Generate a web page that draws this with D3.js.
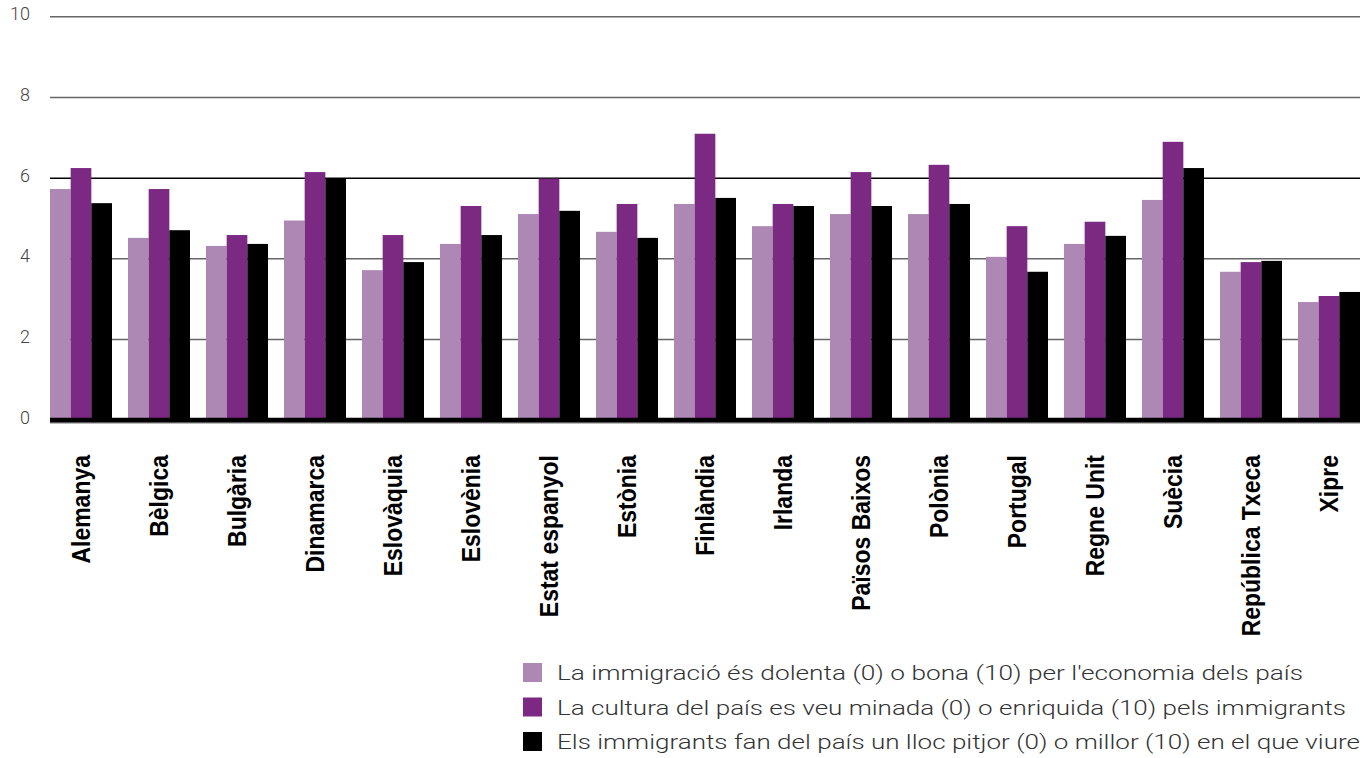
<!DOCTYPE html>
<html>

<head>
	<meta charset="utf-8">
	<title>Immigració</title>
	<script src="https://d3js.org/d3.v7.min.js"></script>
	<style>
		body {
			margin: 0;
			padding: 0;
			background: white;
			overflow: hidden;
		}

		.tick-label {
			font-family: Roboto, sans-serif;
			font-weight: 300;
			font-size: 18px;
			fill: #444;
		}

		.country {
			font-family: "Liberation Sans", Arial, sans-serif;
			font-weight: bold;
			font-size: 23px;
			fill: #000;
		}

		.legend text {
			font-family: Roboto, sans-serif;
			font-weight: 300;
			font-size: 20px;
			fill: #333;
		}
	</style>
</head>

<body>
	<script>
		var countries = ["Alemanya", "Bèlgica", "Bulgària", "Dinamarca", "Eslovàquia", "Eslovènia",
			"Estat espanyol", "Estònia", "Finlàndia", "Irlanda", "Països Baixos", "Polònia",
			"Portugal", "Regne Unit", "Suècia", "República Txeca", "Xipre"];

		var economia = [5.73, 4.52, 4.32, 4.95, 3.72, 4.37, 5.11, 4.67, 5.36, 4.81, 5.11, 5.11, 4.05, 4.37, 5.46, 3.68, 2.93];
		var cultura = [6.25, 5.73, 4.59, 6.15, 4.59, 5.31, 5.99, 5.36, 7.10, 5.36, 6.15, 6.33, 4.81, 4.92, 6.90, 3.92, 3.08];
		var lloc = [5.38, 4.71, 4.37, 6.00, 3.92, 4.59, 5.19, 4.52, 5.51, 5.31, 5.31, 5.36, 3.68, 4.57, 6.25, 3.95, 3.18];

		var seriesNames = [
			"La immigració és dolenta (0) o bona (10) per l'economia dels país",
			"La cultura del país es veu minada (0) o enriquida (10) pels immigrants",
			"Els immigrants fan del país un lloc pitjor (0) o millor (10) en el que viure"
		];
		var colors = ["#ae88b4", "#7b2983", "#000000"];
		var yTicks = [0, 2, 4, 6, 8, 10];

		var width = 1370,
			height = 758;

		var svg = d3.select("body").append("svg")
			.attr("width", width)
			.attr("height", height);

		var x = d3.scaleBand()
			.domain(countries)
			.range([50, 1360])
			.paddingInner(0.205)
			.paddingOuter(0);

		var x1 = d3.scaleBand()
			.domain([0, 1, 2])
			.range([0, x.bandwidth()]);

		var y = d3.scaleLinear()
			.domain([0, 10])
			.range([420.3, 16.7]);

		// gridlines (the 6 line is drawn black in the original)
		svg.append("g").selectAll("line")
			.data(yTicks.filter((d) => d > 0))
			.enter().append("line")
			.attr("x1", 50)
			.attr("x2", 1360)
			.attr("y1", (d) => y(d))
			.attr("y2", (d) => y(d))
			.style("stroke", (d) => d == 6 ? "#000" : "#666")
			.style("stroke-width", 1.5);

		svg.append("g").selectAll("text")
			.data(yTicks)
			.enter().append("text")
			.attr("class", "tick-label")
			.attr("x", 30)
			.attr("y", (d) => y(d))
			.attr("dy", "0.2em")
			.attr("text-anchor", "end")
			.text((d) => d);

		var data = countries.map((c, i) => ({
			country: c,
			values: [economia[i], cultura[i], lloc[i]]
		}));

		var groups = svg.append("g").selectAll("g")
			.data(data)
			.enter().append("g")
			.attr("transform", (d) => "translate(" + x(d.country) + ",0)");

		groups.selectAll("rect")
			.data((d) => d.values.map((v, k) => ({ k: k, v: v })))
			.enter().append("rect")
			.attr("x", (d) => x1(d.k))
			.attr("width", x1.bandwidth())
			.attr("y", (d) => y(d.v))
			.attr("height", (d) => y(0) - y(d.v))
			.style("fill", (d) => colors[d.k]);

		// baseline
		svg.append("line")
			.attr("x1", 50).attr("x2", 1360)
			.attr("y1", y(0)).attr("y2", y(0))
			.style("stroke", "#000")
			.style("stroke-width", 5);
		svg.append("line")
			.attr("x1", 50).attr("x2", 1360)
			.attr("y1", y(0) + 3).attr("y2", y(0) + 3)
			.style("stroke", "#aaa")
			.style("stroke-width", 1);

		// rotated country labels
		svg.append("g").selectAll("text")
			.data(countries)
			.enter().append("text")
			.attr("class", "country")
			.attr("transform", (d) => "translate(" + (x(d) + x.bandwidth() / 2 + 9) + ",455) scale(1.1,1) rotate(-90)")
			.attr("text-anchor", "end")
			.text((d) => d);

		// legend
		var legendWidths = [746, 789, 803];
		var legend = svg.append("g").attr("class", "legend")
			.selectAll("g")
			.data(seriesNames)
			.enter().append("g")
			.attr("transform", (d, i) => "translate(523," + (663 + i * 34.5) + ")");

		legend.append("rect")
			.attr("width", 19)
			.attr("height", 19)
			.style("fill", (d, i) => colors[i]);

		legend.append("text")
			.attr("x", 34)
			.attr("y", 17)
			.attr("textLength", (d, i) => legendWidths[i])
			.attr("lengthAdjust", "spacingAndGlyphs")
			.text((d) => d);
	</script>
</body>

</html>
